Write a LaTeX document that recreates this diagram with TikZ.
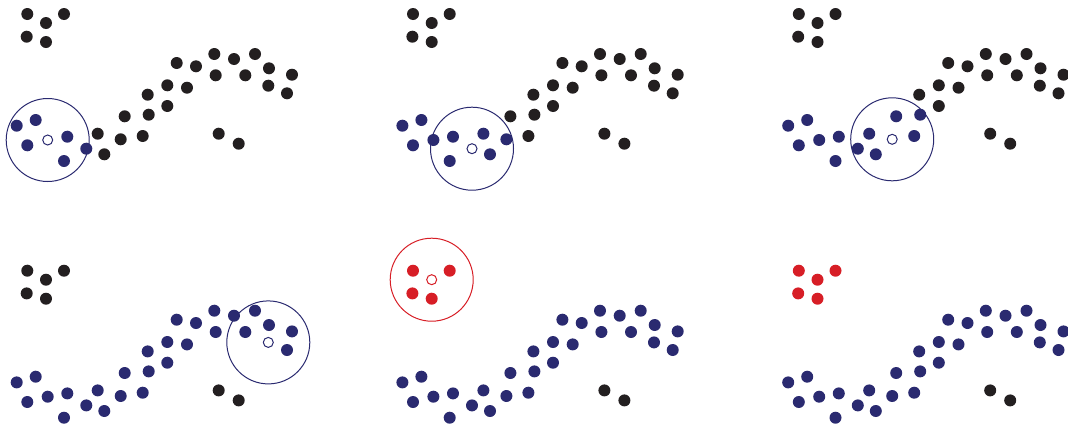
\documentclass[tikz,border=0pt]{standalone}
\usepackage{tikz}
\definecolor{navy}{RGB}{42,42,112}
\definecolor{ink}{RGB}{35,31,32}
\definecolor{clred}{RGB}{215,30,38}
\tikzset{
  core/.style={fill=navy},
  noise/.style={fill=ink},
  clus/.style={fill=clred},
  cur/.style={draw=navy, fill=white, line width=1pt},
  curred/.style={draw=clred, fill=white, line width=1pt},
  eps/.style={draw=navy, line width=1pt},
  epsred/.style={draw=clred, line width=1pt},
}
\newcommand{\tlpts}{27.3/14, 46/23, 64/14, 26.7/36.7, 46/42}
\newcommand{\chainpts}{16.7/125.7, 35.7/120, 27.3/145.3, 47.7/140, 67.3/136.7,
  64/161, 86.3/148.7, 97.7/133.7, 104.3/154.3, 120.7/139.3, 124.7/116.3,
  142.7/136, 148.7/114.7, 147.7/94.7, 167.3/106, 167.3/85.3, 187/87.7,
  176.7/63, 196/66.3, 214.3/54, 215.7/75.3, 234/59, 245.3/75.3, 255/54,
  269/68.3, 292/74.7, 287/93.3, 268.3/85.7}
\newcommand{\noisepts}{218.7/133.7, 238.7/143.7}
% #1 = fill style, #2 = index of open point
\newcommand{\drawtl}[2]{
  \foreach \px/\py [count=\i] in \tlpts {
    \ifnum\i=#2 \draw[curred] (\px,\py) circle (5pt);
    \else \fill[#1] (\px,\py) circle (6pt);
    \fi
  }}
% #1 = number of blue points, #2 = index of open point
\newcommand{\drawchain}[2]{
  \foreach \px/\py [count=\i] in \chainpts {
    \ifnum\i=#2 \draw[cur] (\px,\py) circle (5pt);
    \else\ifnum\i>#1 \fill[noise] (\px,\py) circle (6pt);
    \else \fill[core] (\px,\py) circle (6pt);
    \fi\fi
  }}
\newcommand{\drawnoise}{
  \foreach \px/\py in \noisepts {\fill[noise] (\px,\py) circle (6pt);}}
\begin{document}
\begin{tikzpicture}[x=1pt,y=-1pt]
\useasboundingbox (0,0) rectangle (1068,426);
% top row
\begin{scope}
  \drawtl{noise}{0} \drawchain{7}{4} \drawnoise
  \draw[eps] (47.7,140) circle (41.5pt);
\end{scope}
\begin{scope}[shift={(385.7,0)}]
  \drawtl{noise}{0} \drawchain{10}{7} \drawnoise
  \draw[eps] (86.3,148.7) circle (41.5pt);
\end{scope}
\begin{scope}[shift={(771.5,0)}]
  \drawtl{noise}{0} \drawchain{13}{10} \drawnoise
  \draw[eps] (120.7,139.3) circle (41.5pt);
\end{scope}
% bottom row
\begin{scope}[shift={(0,256.7)}]
  \drawtl{noise}{0} \drawchain{28}{28} \drawnoise
  \draw[eps] (268.3,85.7) circle (41.5pt);
\end{scope}
\begin{scope}[shift={(385.7,256.7)}]
  \drawtl{clus}{2} \drawchain{28}{0} \drawnoise
  \draw[epsred] (46,23) circle (41.5pt);
\end{scope}
\begin{scope}[shift={(771.5,256.7)}]
  \drawtl{clus}{0} \drawchain{28}{0} \drawnoise
\end{scope}
\end{tikzpicture}
\end{document}
